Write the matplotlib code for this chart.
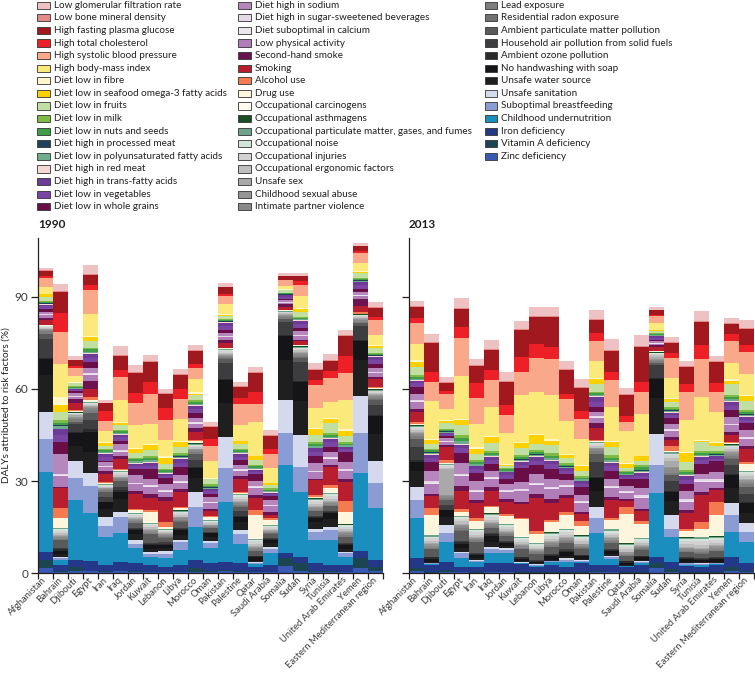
import matplotlib.pyplot as plt
import matplotlib.transforms as mtransforms
import numpy as np
from matplotlib.patches import Rectangle

plt.rcParams['font.family'] = ['Lato', 'DejaVu Sans']

countries = ["Afghanistan", "Bahrain", "Djibouti", "Egypt", "Iran", "Iraq", "Jordan",
             "Kuwait", "Lebanon", "Libya", "Morocco", "Oman", "Pakistan", "Palestine",
             "Qatar", "Saudi Arabia", "Somalia", "Sudan", "Syria", "Tunisia",
             "United Arab Emirates", "Yemen", "Eastern Mediterranean region"]

# risk factors, listed from the bottom of each bar to the top
risk_factors = [
    "Zinc deficiency", "Vitamin A deficiency", "Iron deficiency", "Childhood undernutrition",
    "Suboptimal breastfeeding", "Unsafe sanitation",
    "Unsafe water source", "No handwashing with soap", "Ambient ozone pollution",
    "Household air pollution from solid fuels", "Ambient particulate matter pollution",
    "Residential radon exposure", "Lead exposure",
    "Intimate partner violence", "Childhood sexual abuse", "Unsafe sex",
    "Occupational ergonomic factors", "Occupational injuries", "Occupational noise",
    "Occupational particulate matter, gases, and fumes", "Occupational asthmagens",
    "Occupational carcinogens",
    "Drug use", "Alcohol use", "Smoking", "Second-hand smoke",
    "Low physical activity", "Diet suboptimal in calcium",
    "Diet high in sugar-sweetened beverages", "Diet high in sodium", "Diet low in whole grains",
    "Diet low in vegetables", "Diet high in trans-fatty acids", "Diet high in red meat",
    "Diet low in polyunsaturated fatty acids", "Diet high in processed meat",
    "Diet low in nuts and seeds", "Diet low in milk", "Diet low in fruits",
    "Diet low in seafood omega-3 fatty acids", "Diet low in fibre",
    "High body-mass index", "High systolic blood pressure", "High total cholesterol",
    "High fasting plasma glucose", "Low bone mineral density", "Low glomerular filtration rate"]

factor_colors = [
    "#3a59b4", "#1c4552", "#24388a", "#1b8ec0", "#8b9bd3", "#d5d9ee",
    "#1f1f1f", "#151517", "#2b2b2d", "#3d3d3f", "#5a5a5a", "#707070", "#7d7d7d",
    "#898989", "#959595", "#a9a9a9", "#bfbfbf", "#d2d2d2", "#d3e5da", "#6ea58a",
    "#1c4e26", "#fefcef",
    "#fdf6dc", "#f37b4f", "#b81e2e", "#6b1451",
    "#b07db8", "#ece6ef", "#e6d8e8", "#b687bd", "#690e47", "#7b46a3", "#6d3b96",
    "#f6d8d6", "#6fab8d", "#1f4256", "#3d9e47", "#7dbb46", "#c2dfa2", "#fdd000",
    "#fff7c9",
    "#fbe97b", "#f9a98a", "#ee2027", "#a1191f", "#e38a87", "#eec1c3"]

# DALYs attributed (%) per risk factor, same order as risk_factors
afghanistan_1990 = [1.5, 2.7, 2.7, 26.1, 10.6, 9.0, 12.0, 5.1, 0.3, 6.3, 1.5, 0.1, 1.0,
                    0.4, 0.2, 0.2, 0.3, 0.3, 0.1, 0.1, 0.1, 0.05, 0.2, 0.1, 1.4, 0.8,
                    0.9, 0.1, 0.2, 0.9, 0.9, 0.8, 0.6, 0.1, 0.2, 0.1, 0.5, 0.2, 1.4, 0.8, 0.1,
                    2.2, 3.0, 0.8, 1.5, 0.2, 0.7]
bahrain_1990 = [0.3, 0.2, 2.2, 1.6, 0.5, 0.3, 1.0, 1.2, 0.5, 0.3, 2.5, 0.1, 0.5,
                0.6, 0.4, 0.3, 0.6, 0.7, 0.5, 0.3, 0.1, 0.1, 3.0, 3.3, 6.5, 0.5,
                3.6, 0.3, 0.4, 6.4, 3.8, 2.3, 2.0, 0.2, 0.8, 0.2, 0.8, 1.0, 2.7, 2.2, 2.7,
                10.7, 10.3, 6.4, 6.6, 0.3, 2.4]
djibouti_1990 = [0.5, 1.6, 2.2, 19.6, 7.0, 5.5, 5.0, 4.3, 0.3, 2.5, 0.8, 0.1, 0.8,
                 0.4, 0.2, 0.6, 0.3, 0.3, 0.1, 0.2, 0.05, 0.05, 0.4, 0.5, 2.2, 1.1,
                 0.8, 0.1, 0.2, 1.0, 0.5, 0.5, 0.2, 0.1, 0.2, 0.1, 0.4, 0.3, 0.8, 0.2, 0.2,
                 2.1, 2.6, 0.5, 2.0, 0.2, 1.1]
egypt_1990 = [0.5, 0.3, 3.0, 15.8, 8.7, 4.3, 7.0, 6.5, 0.7, 3.0, 2.4, 0.1, 1.0,
              0.5, 0.3, 0.2, 0.4, 0.4, 0.3, 0.3, 0.1, 0.1, 0.4, 1.0, 2.7, 2.7,
              2.0, 0.2, 0.3, 1.8, 1.8, 1.4, 1.2, 0.2, 0.4, 0.1, 0.8, 0.6, 2.2, 1.3, 0.2,
              7.4, 7.6, 1.8, 3.3, 0.3, 2.9]
iran_1990 = [0.3, 0.3, 2.1, 9.2, 3.3, 3.0, 2.8, 2.0, 0.3, 1.5, 1.6, 0.1, 0.6,
             0.3, 0.2, 0.1, 0.3, 0.4, 0.3, 0.2, 0.1, 0.1, 0.3, 0.2, 2.7, 1.1,
             1.2, 0.1, 0.2, 1.2, 0.5, 1.2, 1.0, 0.2, 0.5, 0.1, 0.4, 0.4, 1.1, 0.8, 0.3,
             3.8, 3.2, 3.3, 2.4, 0.2, 1.0]
iraq_1990 = [0.5, 0.3, 2.9, 9.2, 5.2, 1.9, 4.0, 2.5, 0.5, 1.2, 1.8, 0.1, 0.6,
             0.3, 0.2, 0.2, 0.4, 0.7, 0.3, 0.3, 0.1, 0.1, 0.4, 0.3, 3.3, 0.8,
             1.5, 0.2, 0.3, 2.0, 1.0, 1.1, 0.9, 0.2, 0.4, 0.1, 0.5, 0.4, 1.6, 0.5, 0.5,
             7.0, 7.5, 2.5, 4.6, 0.3, 2.7]
jordan_1990 = [0.3, 0.2, 2.6, 4.9, 1.5, 1.2, 2.0, 1.3, 0.4, 0.3, 1.5, 0.1, 0.5,
               0.5, 0.3, 0.2, 0.5, 0.6, 0.4, 0.3, 0.1, 0.1, 0.6, 0.4, 4.8, 1.1,
               2.2, 0.2, 0.4, 2.5, 2.0, 1.0, 0.7, 0.2, 0.6, 0.1, 0.5, 0.5, 1.5, 1.4, 0.4,
               7.5, 7.0, 3.3, 6.5, 0.4, 2.2]
kuwait_1990 = [0.2, 0.1, 2.3, 2.7, 1.0, 0.6, 1.0, 1.2, 0.5, 0.3, 2.7, 0.1, 0.4,
               0.6, 0.4, 0.3, 0.6, 0.6, 0.4, 0.3, 0.1, 0.1, 3.5, 0.5, 3.8, 1.4,
               2.5, 0.2, 0.4, 2.0, 3.0, 1.2, 1.0, 0.2, 0.6, 0.2, 0.5, 0.6, 2.0, 1.6, 0.4,
               6.6, 9.8, 3.8, 6.5, 0.4, 2.0]
lebanon_1990 = [0.2, 0.1, 1.5, 3.2, 1.2, 1.0, 1.0, 1.0, 0.3, 0.5, 1.5, 0.1, 0.4,
                0.4, 0.3, 0.2, 0.4, 0.4, 0.3, 0.2, 0.1, 0.1, 0.5, 1.6, 7.0, 1.2,
                1.8, 0.2, 0.4, 1.8, 2.0, 0.8, 0.6, 0.2, 0.4, 0.1, 0.5, 0.4, 1.6, 2.0, 0.5,
                5.5, 6.5, 3.8, 4.7, 0.3, 1.3]
libya_1990 = [0.2, 0.1, 2.3, 4.9, 2.5, 0.7, 1.8, 1.5, 0.4, 0.3, 2.0, 0.1, 0.5,
              0.5, 0.3, 0.2, 0.5, 0.8, 0.4, 0.3, 0.1, 0.1, 0.6, 0.4, 4.9, 1.0,
              2.0, 0.2, 0.4, 1.8, 2.7, 1.5, 1.2, 0.2, 0.5, 0.1, 0.5, 0.5, 2.2, 1.6, 0.3,
              7.2, 6.3, 3.3, 4.7, 0.3, 1.6]
morocco_1990 = [0.3, 1.2, 2.7, 10.9, 6.5, 4.9, 4.5, 3.3, 0.4, 2.0, 2.0, 0.1, 0.7,
                0.5, 0.3, 0.2, 0.5, 0.5, 0.4, 0.3, 0.1, 0.1, 0.5, 0.4, 2.7, 1.2,
                1.5, 0.2, 0.3, 1.5, 1.6, 1.2, 1.0, 0.2, 0.4, 0.1, 0.5, 0.6, 1.6, 0.5, 0.5,
                4.3, 3.8, 1.1, 4.3, 0.3, 1.6]
oman_1990 = [0.3, 0.2, 2.9, 4.9, 1.5, 0.6, 1.5, 1.0, 0.3, 0.2, 1.2, 0.1, 0.3,
             0.3, 0.3, 0.2, 0.4, 0.5, 0.3, 0.3, 0.1, 0.1, 0.8, 0.3, 1.6, 0.6,
             2.0, 0.2, 0.3, 1.4, 1.0, 0.9, 0.7, 0.2, 0.3, 0.1, 0.4, 0.6, 1.6, 0.3, 0.3,
             5.5, 4.9, 2.1, 3.9, 0.3, 1.6]
pakistan_1990 = [0.5, 0.5, 2.7, 19.5, 10.9, 10.3, 10.9, 7.6, 0.5, 5.0, 1.5, 0.1, 0.5,
                 0.4, 0.3, 0.2, 0.5, 0.4, 0.3, 0.3, 0.1, 0.1, 0.3, 0.1, 1.6, 1.0,
                 0.9, 0.1, 0.2, 1.1, 1.0, 1.2, 1.0, 0.1, 0.3, 0.1, 0.4, 0.3, 1.0, 0.3, 0.2,
                 3.3, 2.7, 0.6, 2.2, 0.2, 1.3]
palestine_1990 = [0.3, 0.2, 2.6, 6.5, 3.2, 1.2, 2.5, 1.8, 0.3, 1.5, 1.5, 0.1, 0.5,
                  0.5, 0.4, 0.3, 0.6, 0.8, 0.5, 0.3, 0.1, 0.1, 0.3, 0.2, 4.3, 1.0,
                  1.8, 0.2, 0.3, 1.3, 1.5, 1.2, 0.9, 0.2, 0.4, 0.1, 0.5, 0.5, 1.6, 0.8, 0.3,
                  5.0, 7.0, 1.8, 3.6, 0.3, 1.4]
qatar_1990 = [0.2, 0.1, 1.7, 1.0, 0.3, 0.2, 0.5, 1.2, 0.3, 0.2, 1.5, 0.1, 0.4,
              0.5, 0.4, 0.3, 0.6, 0.8, 0.5, 0.3, 0.1, 0.1, 7.6, 1.6, 3.8, 1.2,
              2.3, 0.2, 0.4, 1.6, 2.2, 0.8, 0.7, 0.2, 0.3, 0.1, 0.5, 0.5, 1.6, 1.1, 0.3,
              11.1, 5.8, 3.8, 6.3, 0.3, 1.6]
saudi_arabia_1990 = [0.2, 0.1, 2.3, 3.8, 1.5, 0.7, 1.2, 1.0, 0.3, 0.2, 1.5, 0.1, 0.3,
                     0.3, 0.3, 0.2, 0.4, 0.5, 0.4, 0.3, 0.1, 0.1, 1.5, 0.5, 1.1, 1.1,
                     1.8, 0.2, 0.3, 1.5, 1.2, 0.6, 0.6, 0.2, 0.3, 0.1, 0.4, 0.4, 1.1, 0.5, 0.2,
                     4.9, 4.4, 1.6, 4.4, 0.3, 1.6]
somalia_1990 = [2.2, 2.7, 1.6, 28.8, 10.4, 10.8, 13.0, 7.7, 0.3, 4.5, 0.8, 0.1, 0.5,
                0.4, 0.2, 0.5, 0.3, 0.3, 0.1, 0.2, 0.05, 0.05, 0.2, 0.1, 1.0, 0.8,
                0.5, 0.1, 0.1, 0.6, 0.6, 0.6, 0.4, 0.1, 0.2, 0.1, 0.3, 0.2, 0.8, 0.2, 0.1,
                1.1, 1.8, 0.3, 1.1, 0.1, 0.8]
sudan_1990 = [0.5, 2.6, 2.2, 21.2, 8.1, 10.4, 11.0, 6.4, 0.3, 6.0, 1.5, 0.1, 0.6,
              0.5, 0.3, 0.5, 0.5, 0.5, 0.3, 0.3, 0.1, 0.1, 0.3, 0.2, 1.1, 0.5,
              1.2, 0.1, 0.2, 1.4, 0.9, 1.3, 1.1, 0.1, 0.3, 0.1, 0.4, 0.3, 1.6, 1.1, 0.2,
              3.8, 3.8, 1.1, 1.6, 0.2, 0.8]
syria_1990 = [0.3, 0.2, 2.6, 7.6, 2.7, 1.1, 2.2, 1.3, 0.3, 0.4, 1.5, 0.1, 0.4,
              0.5, 0.4, 0.3, 0.6, 0.9, 0.5, 0.3, 0.1, 0.1, 0.5, 0.5, 4.9, 0.5,
              2.0, 0.2, 0.3, 2.5, 2.2, 1.5, 1.2, 0.2, 0.4, 0.1, 0.6, 0.6, 2.4, 2.0, 0.3,
              6.5, 7.4, 1.8, 3.3, 0.3, 1.8]
tunisia_1990 = [0.3, 0.2, 2.1, 8.1, 3.3, 1.1, 2.6, 1.9, 0.3, 0.3, 1.5, 0.1, 0.4,
                0.6, 0.4, 0.3, 0.7, 0.9, 0.6, 0.4, 0.1, 0.1, 1.4, 1.1, 5.9, 0.5,
                2.0, 0.3, 0.3, 1.8, 1.6, 1.5, 1.0, 0.2, 0.4, 0.1, 0.6, 0.6, 3.3, 1.4, 0.3,
                5.1, 7.9, 2.2, 3.3, 0.3, 2.0]
uae_1990 = [0.2, 0.1, 2.3, 2.7, 1.2, 0.4, 1.0, 1.3, 0.4, 0.2, 2.0, 0.1, 0.5,
            0.6, 0.4, 0.3, 0.6, 0.7, 0.5, 0.3, 0.1, 0.1, 3.8, 3.8, 6.0, 1.0,
            2.5, 0.3, 0.4, 2.3, 3.3, 0.9, 0.7, 0.2, 0.4, 0.1, 0.5, 0.5, 2.0, 1.6, 0.5,
            9.5, 9.0, 5.4, 6.5, 0.3, 1.8]
yemen_1990 = [1.6, 3.3, 2.2, 25.5, 13.1, 11.9, 12.0, 6.0, 0.3, 4.5, 1.0, 0.1, 0.5,
              0.4, 0.3, 0.3, 0.4, 0.4, 0.2, 0.2, 0.1, 0.1, 0.2, 0.4, 2.2, 2.2,
              1.0, 0.1, 0.2, 1.0, 1.0, 1.2, 1.0, 0.1, 0.3, 0.1, 0.5, 0.3, 1.6, 0.4, 0.2,
              2.7, 3.3, 0.5, 1.6, 0.2, 0.9]
emr_1990 = [0.5, 1.6, 2.2, 16.8, 8.2, 7.1, 9.0, 5.7, 0.4, 3.2, 1.8, 0.1, 0.6,
            0.5, 0.3, 0.3, 0.4, 0.5, 0.3, 0.3, 0.1, 0.1, 0.4, 0.2, 2.5, 0.8,
            1.3, 0.1, 0.2, 1.4, 1.2, 1.3, 1.1, 0.1, 0.3, 0.1, 0.4, 0.4, 1.6, 0.6, 0.2,
            3.3, 4.9, 1.1, 3.0, 0.2, 1.6]

afghanistan_2013 = [0.5, 1.0, 3.3, 13.0, 6.0, 4.3, 5.0, 3.2, 0.5, 4.3, 2.5, 0.1, 1.0,
                    0.7, 0.4, 0.3, 0.6, 0.6, 0.4, 0.3, 0.1, 0.1, 0.5, 0.4, 3.3, 1.2,
                    2.2, 0.2, 0.4, 2.1, 2.2, 1.1, 0.9, 0.2, 0.4, 0.1, 0.6, 0.5, 2.7, 1.6, 0.8,
                    5.2, 6.8, 1.6, 3.5, 0.3, 1.6]
bahrain_2013 = [0.1, 0.1, 2.5, 0.3, 0.2, 0.1, 0.3, 1.0, 0.5, 0.1, 2.5, 0.1, 0.4,
                0.6, 0.5, 0.4, 0.8, 0.8, 0.6, 0.4, 0.1, 0.1, 6.5, 2.2, 3.8, 0.6,
                3.5, 0.3, 0.5, 3.2, 3.2, 1.2, 1.0, 0.2, 0.5, 0.2, 0.6, 0.5, 1.7, 1.1, 0.4,
                12.5, 6.0, 3.3, 9.6, 0.3, 2.4]
djibouti_2013 = [0.3, 0.8, 2.6, 6.5, 2.7, 2.7, 2.8, 2.0, 0.3, 1.5, 1.6, 0.1, 0.6,
                 0.6, 0.3, 8.5, 0.5, 0.4, 0.3, 0.3, 0.1, 0.1, 0.4, 0.7, 4.3, 0.8,
                 0.8, 0.1, 0.3, 1.0, 0.6, 0.6, 0.5, 0.1, 0.3, 0.1, 0.4, 0.4, 1.8, 0.7, 0.3,
                 3.6, 5.0, 0.9, 2.7, 0.2, 1.6]
egypt_2013 = [0.3, 0.1, 1.6, 2.8, 1.6, 0.4, 1.2, 1.5, 0.5, 0.3, 3.5, 0.1, 0.7,
              0.7, 0.5, 0.3, 0.8, 0.7, 0.6, 0.3, 0.1, 0.1, 1.2, 0.9, 6.0, 1.5,
              3.2, 0.3, 0.5, 3.5, 3.2, 1.6, 1.2, 0.3, 0.8, 0.1, 1.1, 0.9, 3.3, 1.6, 0.3,
              14.0, 12.3, 3.6, 5.9, 0.3, 3.3]
iran_2013 = [0.1, 0.1, 1.8, 1.5, 0.5, 0.3, 0.6, 1.0, 0.4, 0.2, 3.5, 0.1, 0.5,
             0.5, 0.4, 0.3, 0.7, 0.8, 0.6, 0.3, 0.1, 0.1, 2.7, 0.9, 4.9, 0.9,
             2.6, 0.3, 0.4, 2.8, 2.7, 1.2, 1.0, 0.2, 0.5, 0.1, 0.5, 0.6, 2.2, 1.6, 0.6,
             7.5, 8.5, 4.9, 5.4, 0.3, 2.2]
iraq_2013 = [0.2, 0.1, 2.8, 3.3, 1.5, 0.7, 1.5, 2.0, 0.5, 0.3, 1.8, 0.1, 0.6,
             0.6, 0.4, 0.3, 0.7, 1.0, 0.6, 0.4, 0.1, 0.1, 1.8, 0.6, 4.9, 1.0,
             2.7, 0.3, 0.4, 2.1, 2.2, 1.2, 1.0, 0.2, 0.4, 0.1, 0.6, 0.6, 2.7, 2.0, 0.4,
             9.4, 8.8, 3.3, 6.5, 0.3, 3.0]
jordan_2013 = [0.2, 0.1, 2.8, 3.5, 1.0, 0.5, 0.6, 1.0, 0.4, 0.2, 1.8, 0.1, 0.4,
               0.5, 0.4, 0.3, 0.7, 0.6, 0.5, 0.3, 0.1, 0.1, 2.5, 0.6, 3.8, 1.0,
               2.5, 0.3, 0.4, 1.8, 1.6, 1.2, 1.0, 0.2, 0.3, 0.1, 0.5, 0.5, 0.6, 0.3, 0.3,
               9.9, 6.0, 3.3, 7.6, 0.3, 2.7]
kuwait_2013 = [0.1, 0.1, 2.6, 0.4, 0.2, 0.1, 0.3, 0.9, 0.4, 0.1, 2.5, 0.1, 0.4,
               0.6, 0.4, 0.3, 0.7, 0.7, 0.6, 0.3, 0.1, 0.1, 5.5, 0.5, 4.4, 0.9,
               3.3, 0.3, 0.4, 2.5, 4.3, 1.2, 1.0, 0.2, 0.5, 0.2, 0.6, 0.7, 2.2, 1.6, 0.5,
               15.3, 7.3, 4.9, 9.0, 0.3, 2.5]
lebanon_2013 = [0.1, 0.1, 1.8, 0.4, 0.3, 0.2, 0.3, 0.5, 0.3, 0.2, 2.0, 0.1, 0.4,
                0.4, 0.3, 0.3, 0.6, 0.5, 0.5, 0.4, 0.1, 0.2, 2.6, 1.1, 10.9, 1.0,
                3.0, 0.3, 0.5, 3.0, 2.7, 1.5, 1.2, 0.3, 0.5, 0.2, 0.6, 0.7, 2.1, 2.8, 0.3,
                13.6, 11.1, 4.7, 8.7, 0.4, 3.0]
libya_2013 = [0.1, 0.1, 2.5, 0.8, 0.3, 0.2, 0.4, 1.2, 0.4, 0.2, 2.3, 0.1, 0.5,
              0.6, 0.4, 0.3, 0.8, 1.0, 0.6, 0.4, 0.1, 0.1, 3.3, 0.6, 5.5, 1.2,
              3.3, 0.3, 0.5, 2.5, 3.3, 1.5, 1.2, 0.3, 0.5, 0.2, 0.7, 0.8, 2.7, 1.1, 0.8,
              14.2, 12.0, 3.8, 9.8, 0.4, 3.0]
morocco_2013 = [0.1, 0.2, 1.7, 1.6, 0.8, 0.4, 0.8, 1.2, 0.4, 0.5, 2.0, 0.1, 0.5,
                0.6, 0.4, 0.3, 0.8, 0.9, 0.6, 0.4, 0.1, 0.1, 4.3, 1.1, 4.4, 1.0,
                2.8, 0.3, 0.4, 1.5, 2.1, 1.0, 0.7, 0.2, 0.4, 0.1, 0.5, 0.6, 1.7, 1.0, 0.3,
                10.6, 7.4, 1.6, 7.6, 0.3, 2.7]
oman_2013 = [0.1, 0.1, 2.9, 0.6, 0.3, 0.2, 0.3, 0.9, 0.4, 0.1, 2.0, 0.1, 0.4,
             0.5, 0.4, 0.3, 0.7, 0.9, 0.6, 0.4, 0.1, 0.1, 3.0, 1.6, 2.2, 0.8,
             2.8, 0.3, 0.4, 1.9, 2.7, 1.0, 0.8, 0.2, 0.4, 0.1, 0.5, 0.6, 1.6, 1.6, 0.2,
             8.5, 6.5, 2.7, 7.6, 0.3, 2.4]
pakistan_2013 = [0.4, 0.4, 1.8, 10.3, 4.9, 3.8, 5.0, 4.3, 0.5, 4.9, 2.5, 0.1, 0.8,
                 0.6, 0.4, 0.2, 0.6, 0.5, 0.4, 0.3, 0.1, 0.1, 0.3, 0.2, 3.8, 1.6,
                 1.8, 0.2, 0.3, 1.5, 1.6, 1.7, 1.5, 0.2, 0.4, 0.1, 0.5, 0.4, 2.7, 1.6, 0.4,
                 5.4, 6.5, 2.7, 4.3, 0.3, 3.0]
palestine_2013 = [0.2, 0.1, 2.4, 2.0, 0.6, 0.3, 0.6, 1.0, 0.4, 0.3, 1.8, 0.1, 0.5,
                  0.6, 0.4, 0.3, 0.8, 0.8, 0.6, 0.4, 0.1, 0.1, 3.0, 0.5, 6.0, 1.0,
                  2.8, 0.3, 0.4, 2.2, 2.7, 1.5, 1.2, 0.2, 0.5, 0.1, 0.8, 0.9, 2.7, 1.6, 0.3,
                  10.9, 8.9, 2.5, 7.1, 0.3, 3.5]
qatar_2013 = [0.1, 0.1, 1.8, 0.2, 0.1, 0.1, 0.2, 0.8, 0.4, 0.1, 1.5, 0.1, 0.3,
              0.5, 0.4, 0.3, 0.7, 0.9, 0.6, 0.4, 0.1, 0.1, 9.5, 2.1, 2.2, 0.6,
              2.0, 0.3, 0.4, 1.4, 2.2, 0.7, 0.6, 0.2, 0.3, 0.1, 0.4, 0.5, 1.1, 1.1, 0.3,
              10.5, 3.0, 2.0, 6.8, 0.2, 2.0]
saudi_arabia_2013 = [0.1, 0.1, 2.4, 0.6, 0.4, 0.2, 0.3, 1.0, 0.4, 0.1, 2.0, 0.1, 0.4,
                     0.5, 0.3, 0.3, 0.6, 0.7, 0.5, 0.3, 0.1, 0.1, 4.4, 1.1, 3.2, 0.8,
                     3.5, 0.3, 0.5, 2.5, 2.7, 1.2, 1.0, 0.2, 0.5, 0.2, 0.9, 0.8, 1.1, 1.6, 0.3,
                     13.7, 7.1, 3.3, 11.4, 0.3, 3.5]
somalia_2013 = [1.5, 1.6, 2.2, 20.7, 9.2, 10.0, 12.0, 6.0, 0.3, 4.2, 0.8, 0.1, 0.5,
                0.5, 0.3, 0.6, 0.5, 0.4, 0.3, 0.2, 0.1, 0.1, 0.2, 0.2, 1.1, 0.6,
                0.6, 0.1, 0.1, 0.6, 0.5, 0.6, 0.5, 0.1, 0.2, 0.1, 0.3, 0.2, 0.8, 0.2, 0.2,
                2.2, 2.2, 0.3, 1.6, 0.1, 1.1]
sudan_2013 = [0.4, 0.8, 2.5, 8.1, 2.7, 4.4, 4.5, 3.1, 0.4, 3.0, 1.9, 0.1, 0.7,
              1.5, 0.4, 2.0, 1.0, 0.9, 0.5, 0.4, 0.1, 0.1, 0.4, 1.6, 2.0, 1.0,
              1.8, 0.2, 0.3, 1.8, 2.1, 0.9, 0.7, 0.2, 0.4, 0.1, 0.5, 0.5, 1.7, 1.1, 0.3,
              6.5, 6.5, 1.6, 3.3, 0.2, 1.6]
syria_2013 = [0.1, 0.1, 2.0, 0.5, 0.4, 0.2, 0.4, 1.0, 0.3, 0.2, 1.5, 0.1, 0.4,
              0.6, 0.4, 0.3, 0.8, 1.2, 0.6, 0.4, 0.1, 0.1, 2.0, 0.6, 5.4, 1.0,
              2.6, 0.3, 0.4, 2.7, 2.2, 1.5, 1.2, 0.2, 0.4, 0.1, 0.6, 0.6, 2.8, 2.7, 0.4,
              10.6, 9.0, 2.7, 5.4, 0.3, 1.6]
tunisia_2013 = [0.1, 0.1, 1.8, 0.6, 0.4, 0.2, 0.4, 0.8, 0.3, 0.2, 1.4, 0.1, 0.4,
                0.6, 0.4, 0.3, 1.0, 1.2, 0.8, 0.5, 0.1, 0.2, 2.6, 2.2, 8.6, 1.2,
                3.3, 0.3, 0.4, 1.9, 3.2, 1.2, 1.0, 0.2, 0.4, 0.1, 0.6, 0.8, 2.7, 0.5, 0.3,
                14.0, 12.5, 4.3, 7.6, 0.4, 3.3]
uae_2013 = [0.1, 0.1, 2.4, 0.4, 0.3, 0.1, 0.3, 0.9, 0.4, 0.1, 2.0, 0.1, 0.4,
            0.6, 0.5, 0.3, 0.8, 1.0, 0.7, 0.4, 0.1, 0.1, 6.8, 4.3, 3.8, 0.6,
            2.2, 0.3, 0.5, 2.3, 3.5, 0.9, 0.7, 0.2, 0.4, 0.1, 0.5, 0.6, 1.6, 1.1, 0.3,
            9.8, 6.5, 2.7, 7.1, 0.3, 1.6]
yemen_2013 = [0.5, 1.5, 3.3, 8.1, 5.5, 3.8, 5.0, 4.2, 0.4, 3.0, 2.0, 0.1, 0.7,
              0.8, 0.5, 0.3, 0.7, 0.6, 0.5, 0.4, 0.1, 0.1, 0.3, 0.3, 2.2, 1.2,
              2.0, 0.2, 0.4, 2.3, 2.2, 1.4, 1.3, 0.2, 0.5, 0.1, 0.8, 0.7, 3.3, 1.1, 0.5,
              5.4, 7.1, 2.2, 3.3, 0.3, 1.6]
emr_2013 = [0.2, 0.4, 2.5, 7.1, 3.2, 2.8, 3.5, 3.0, 0.4, 2.5, 2.5, 0.1, 0.8,
            0.7, 0.5, 0.5, 0.8, 0.8, 0.6, 0.4, 0.1, 0.1, 2.0, 0.8, 4.0, 1.2,
            2.3, 0.2, 0.4, 2.2, 2.2, 1.2, 1.0, 0.2, 0.4, 0.1, 0.8, 0.8, 2.7, 1.6, 0.4,
            7.0, 7.0, 2.2, 5.4, 0.3, 2.7]

rows_1990 = [afghanistan_1990, bahrain_1990, djibouti_1990, egypt_1990, iran_1990, iraq_1990,
             jordan_1990, kuwait_1990, lebanon_1990, libya_1990, morocco_1990, oman_1990,
             pakistan_1990, palestine_1990, qatar_1990, saudi_arabia_1990, somalia_1990,
             sudan_1990, syria_1990, tunisia_1990, uae_1990, yemen_1990, emr_1990]
rows_2013 = [afghanistan_2013, bahrain_2013, djibouti_2013, egypt_2013, iran_2013, iraq_2013,
             jordan_2013, kuwait_2013, lebanon_2013, libya_2013, morocco_2013, oman_2013,
             pakistan_2013, palestine_2013, qatar_2013, saudi_arabia_2013, somalia_2013,
             sudan_2013, syria_2013, tunisia_2013, uae_2013, yemen_2013, emr_2013]

W, H = 755, 674
text_col = '#231f20'


def fx(px):
    return px / W


def fy(px):
    return 1 - px / H


fig = plt.figure(figsize=(W / 100, H / 100), dpi=100)

ax_h = 109.4 * 276 / 90  # axis height in pixels
ax_left = fig.add_axes([fx(38), fy(573), 345 / W, ax_h / H])
ax_right = fig.add_axes([fx(409), fy(573), 345 / W, ax_h / H])

# nudge the rotated country names a little to the right
label_shift = mtransforms.ScaledTranslation(0.045, 0.0, fig.dpi_scale_trans)

for ax, rows, year in [(ax_left, rows_1990, '1990'), (ax_right, rows_2013, '2013')]:
    data = np.array(rows)
    x = np.arange(len(countries))
    bottom = np.zeros(len(countries))
    for j, col in enumerate(factor_colors):
        ax.bar(x, data[:, j], bottom=bottom, width=1.0, color=col, linewidth=0)
        bottom += data[:, j]

    ax.set_xlim(-0.5, len(countries) - 0.5)
    ax.set_ylim(0, 109.4)
    ax.spines['top'].set_visible(False)
    ax.spines['right'].set_visible(False)
    for s in ['left', 'bottom']:
        ax.spines[s].set_linewidth(0.9)
        ax.spines[s].set_color(text_col)

    ax.set_yticks([0, 30, 60, 90])
    ax.tick_params(axis='y', length=5, width=0.9, color=text_col, labelsize=8.5,
                   labelcolor='#3c3c3c', pad=2)

    ax.set_xticks(x)
    ax.set_xticklabels(countries, rotation=45, ha='right', va='center',
                       rotation_mode='anchor', fontsize=6.8, color='#3c3c3c')
    for lab in ax.get_xticklabels():
        lab.set_transform(lab.get_transform() + label_shift)
    ax.tick_params(axis='x', which='major', length=0, pad=4)
    ax.set_xticks(np.arange(-0.5, len(countries), 1), minor=True)
    ax.tick_params(axis='x', which='minor', length=4, width=0.9, color=text_col)

    fig.text(ax.get_position().x0, fy(228), year, fontsize=8.5, fontweight='bold',
             color=text_col, ha='left', va='baseline')

ax_right.set_yticklabels([])

fig.text(fx(6), fy(405), 'DALYs attributed to risk factors (%)', rotation=90,
         ha='center', va='center', fontsize=7.2, color=text_col)

# legend: three columns, top of the stack first
legend_order = list(zip(risk_factors, factor_colors))[::-1]
columns = [(legend_order[:17], 37, 54), (legend_order[17:34], 238, 255),
           (legend_order[34:], 485, 501)]
for entries, patch_x, text_x in columns:
    for i, (name, col) in enumerate(entries):
        yc = 5.2 + 12.6 * i
        fig.add_artist(Rectangle((fx(patch_x), fy(yc + 3.6)), 12.5 / W, 7.2 / H,
                                 transform=fig.transFigure, facecolor=col,
                                 edgecolor='#333333', linewidth=0.6))
        fig.text(fx(text_x), fy(yc), name, fontsize=7.1, color=text_col,
                 ha='left', va='center')

fig.savefig('out.png', dpi=100)
